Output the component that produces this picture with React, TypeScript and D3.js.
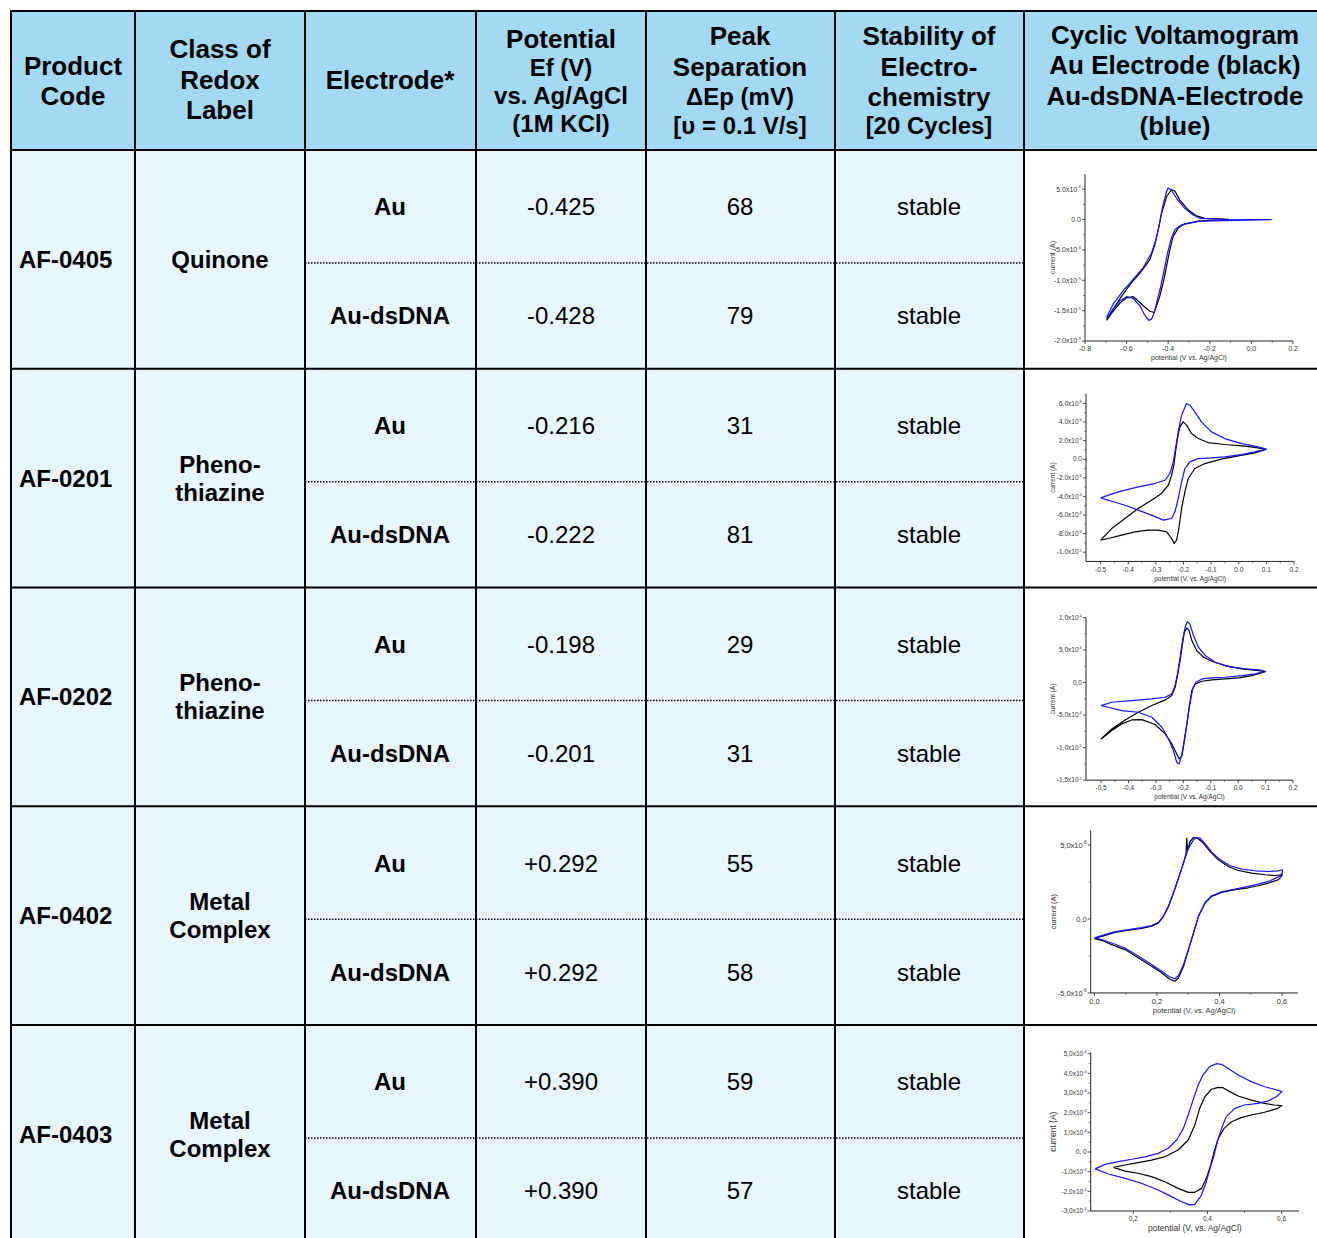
import React from 'react';
import * as d3 from 'd3';

type Pt = [number, number];

// ---------- table data ----------
const productCodes = ['AF-0405', 'AF-0201', 'AF-0202', 'AF-0402', 'AF-0403'];
const redoxClasses = [['Quinone'], ['Pheno-', 'thiazine'], ['Pheno-', 'thiazine'], ['Metal', 'Complex'], ['Metal', 'Complex']];
const electrodes = ['Au', 'Au-dsDNA'];
const potentials = [['-0.425', '-0.428'], ['-0.216', '-0.222'], ['-0.198', '-0.201'], ['+0.292', '+0.292'], ['+0.390', '+0.390']];
const peakSeparations = [[68, 79], [31, 81], [29, 31], [55, 58], [59, 57]];
const stabilities = [['stable', 'stable'], ['stable', 'stable'], ['stable', 'stable'], ['stable', 'stable'], ['stable', 'stable']];

const headerLines: { text: string; big: boolean; y: number }[][] = [
  [{ text: 'Product', big: true, y: 66 }, { text: 'Code', big: true, y: 96 }],
  [{ text: 'Class of', big: true, y: 49 }, { text: 'Redox', big: true, y: 80 }, { text: 'Label', big: true, y: 110 }],
  [{ text: 'Electrode*', big: true, y: 80 }],
  [{ text: 'Potential', big: true, y: 39 }, { text: 'Ef (V)', big: false, y: 68 }, { text: 'vs. Ag/AgCl', big: false, y: 96 }, { text: '(1M KCl)', big: false, y: 124 }],
  [{ text: 'Peak', big: true, y: 36 }, { text: 'Separation', big: true, y: 67 }, { text: 'ΔEp (mV)', big: false, y: 97 }, { text: '[υ = 0.1 V/s]', big: false, y: 126 }],
  [{ text: 'Stability of', big: true, y: 36 }, { text: 'Electro-', big: true, y: 67 }, { text: 'chemistry', big: true, y: 97 }, { text: '[20 Cycles]', big: false, y: 126 }],
  [{ text: 'Cyclic Voltamogram', big: true, y: 35 }, { text: 'Au Electrode (black)', big: true, y: 65 }, { text: 'Au-dsDNA-Electrode', big: true, y: 96 }, { text: '(blue)', big: true, y: 126 }],
];

// ---------- cyclic voltammogram data (potential V, current in tick units) ----------
const cv1Au: Pt[] = [
  [-0.696, -16.6], [-0.664, -14.7], [-0.624, -12.6], [-0.576, -10.4], [-0.528, -8.5], [-0.488, -6.6], [-0.464, -4.1], [-0.448, -1.7],
  [-0.432, 1.0], [-0.408, 3.75], [-0.384, 4.95], [-0.368, 4.7], [-0.344, 3.2], [-0.304, 1.6], [-0.264, 0.6], [-0.224, 0.2], [-0.109, 0.05],
  [-0.256, -0.27], [-0.32, -0.71], [-0.352, -1.41], [-0.376, -2.77], [-0.392, -4.95], [-0.408, -7.66], [-0.424, -10.4], [-0.44, -12.55],
  [-0.456, -14.2], [-0.467, -15.3], [-0.488, -15.1], [-0.52, -14.2], [-0.544, -13.4], [-0.568, -12.7], [-0.6, -12.9], [-0.632, -13.75],
  [-0.669, -15.3], [-0.696, -16.6],
];
const cv1Dna: Pt[] = [
  [-0.696, -16.1], [-0.664, -13.9], [-0.616, -11.7], [-0.568, -9.8], [-0.52, -7.9], [-0.48, -5.5], [-0.459, -3.3], [-0.443, -0.9],
  [-0.427, 2.1], [-0.408, 4.6], [-0.4, 5.2], [-0.384, 4.8], [-0.36, 3.5], [-0.32, 1.85], [-0.28, 0.76], [-0.248, 0.2], [-0.128, 0.05], [0.096, 0],
  [-0.248, -0.27], [-0.336, -0.87], [-0.368, -1.68], [-0.387, -3.3], [-0.403, -5.5], [-0.419, -8.2], [-0.435, -10.9], [-0.451, -13.1],
  [-0.467, -15.3], [-0.48, -16.4], [-0.493, -16.6], [-0.512, -15.8], [-0.536, -14.2], [-0.568, -13.0], [-0.6, -12.7], [-0.632, -13.4],
  [-0.664, -14.7], [-0.696, -16.4],
];
const cv2Au: Pt[] = [
  [-0.5, -8.71], [-0.46, -7.46], [-0.412, -6.38], [-0.364, -5.3], [-0.316, -4.41], [-0.28, -3.69], [-0.255, -2.8], [-0.243, -1.72],
  [-0.235, -0.65], [-0.229, 0.79], [-0.222, 2.22], [-0.213, 3.48], [-0.201, 4.01], [-0.189, 3.66], [-0.171, 2.76], [-0.147, 2.22],
  [-0.111, 1.79], [-0.051, 1.58], [0.022, 1.4], [0.07, 1.22], [0.098, 1.04],
  [0.058, 0.68], [-0.002, 0.36], [-0.063, 0], [-0.123, -0.47], [-0.159, -1.0], [-0.183, -2.08], [-0.195, -3.51], [-0.207, -5.3],
  [-0.217, -7.46], [-0.225, -8.71], [-0.234, -9.07], [-0.243, -8.53], [-0.261, -7.81], [-0.292, -7.63], [-0.328, -7.63], [-0.376, -7.81],
  [-0.424, -8.17], [-0.472, -8.53], [-0.5, -8.71],
];
const cv2Dna: Pt[] = [
  [-0.5, -4.16], [-0.436, -3.51], [-0.364, -2.97], [-0.304, -2.62], [-0.267, -2.26], [-0.249, -1.54], [-0.237, -0.29], [-0.229, 1.15],
  [-0.219, 2.94], [-0.207, 4.73], [-0.189, 5.99], [-0.177, 5.81], [-0.159, 5.09], [-0.135, 4.01], [-0.099, 2.94], [-0.051, 2.22],
  [0.01, 1.68], [0.07, 1.33], [0.1, 1.08],
  [0.058, 0.79], [0.01, 0.5], [-0.051, 0.25], [-0.099, 0.14], [-0.147, 0.07], [-0.177, -0.29], [-0.195, -1.0], [-0.207, -2.44],
  [-0.219, -4.23], [-0.231, -5.66], [-0.243, -6.38], [-0.273, -6.56], [-0.316, -6.02], [-0.364, -5.48], [-0.412, -4.95], [-0.46, -4.52],
  [-0.5, -4.16],
];
const cv3Au: Pt[] = [
  [-0.5, -8.66], [-0.461, -7.12], [-0.412, -5.74], [-0.364, -4.56], [-0.315, -3.53], [-0.266, -2.66], [-0.242, -2.0], [-0.23, -0.72],
  [-0.22, 1.33], [-0.211, 3.64], [-0.203, 5.94], [-0.196, 7.74], [-0.187, 8.4], [-0.179, 7.99], [-0.169, 6.45], [-0.151, 4.92],
  [-0.126, 3.89], [-0.096, 3.28], [-0.047, 2.61], [0.014, 2.1], [0.075, 1.84], [0.099, 1.69],
  [0.05, 1.08], [0.002, 0.72], [-0.047, 0.56], [-0.096, 0.41], [-0.132, 0.2], [-0.157, -0.2], [-0.169, -1.23], [-0.179, -3.79],
  [-0.187, -6.35], [-0.196, -8.91], [-0.205, -11.22], [-0.215, -11.73], [-0.224, -10.96], [-0.242, -9.43], [-0.266, -7.89],
  [-0.303, -6.45], [-0.351, -5.69], [-0.388, -5.74], [-0.425, -6.35], [-0.461, -7.38], [-0.5, -8.66],
];
const cv3Dna: Pt[] = [
  [-0.5, -3.53], [-0.461, -3.02], [-0.388, -2.77], [-0.315, -2.51], [-0.266, -2.25], [-0.242, -1.74], [-0.23, -0.46], [-0.22, 1.59],
  [-0.211, 4.15], [-0.203, 6.45], [-0.193, 8.61], [-0.185, 9.38], [-0.175, 8.91], [-0.163, 7.22], [-0.145, 5.43], [-0.12, 4.15],
  [-0.084, 3.13], [-0.035, 2.46], [0.026, 2.1], [0.075, 1.95], [0.099, 1.74],
  [0.062, 1.33], [0.014, 1.08], [-0.047, 0.82], [-0.096, 0.72], [-0.132, 0.56], [-0.154, 0.05], [-0.166, -0.97], [-0.177, -3.53],
  [-0.186, -6.1], [-0.196, -8.66], [-0.205, -10.96], [-0.215, -12.5], [-0.224, -12.24], [-0.236, -10.45], [-0.254, -8.66],
  [-0.278, -6.86], [-0.315, -5.33], [-0.364, -4.56], [-0.425, -4.3], [-0.473, -3.79], [-0.5, -3.53],
];
const cv4Au: Pt[] = [
  [0.0, -1.33], [0.023, -1.17], [0.066, -0.9], [0.109, -0.76], [0.151, -0.63], [0.183, -0.49], [0.205, -0.27], [0.221, 0.18],
  [0.237, 0.85], [0.253, 1.75], [0.269, 2.76], [0.285, 3.78], [0.293, 4.45], [0.295, 5.46], [0.298, 4.67], [0.306, 5.24],
  [0.317, 5.51], [0.33, 5.46], [0.349, 5.12], [0.37, 4.56], [0.396, 4.0], [0.428, 3.55], [0.46, 3.28], [0.503, 3.1], [0.546, 2.99],
  [0.578, 2.94], [0.601, 2.99],
  [0.588, 2.65], [0.556, 2.43], [0.524, 2.25], [0.492, 2.11], [0.45, 1.98], [0.407, 1.8], [0.375, 1.53], [0.354, 1.08], [0.333, 0.18],
  [0.317, -0.94], [0.301, -2.07], [0.285, -3.19], [0.269, -3.98], [0.258, -4.2], [0.242, -4.09], [0.215, -3.64], [0.183, -3.19],
  [0.141, -2.63], [0.098, -2.07], [0.055, -1.73], [0.023, -1.44], [0.0, -1.33],
];
const cv4Dna: Pt[] = [
  [0.0, -1.28], [0.023, -1.12], [0.066, -0.85], [0.109, -0.72], [0.151, -0.58], [0.183, -0.45], [0.205, -0.22], [0.221, 0.22],
  [0.237, 0.9], [0.253, 1.8], [0.269, 2.81], [0.285, 3.82], [0.301, 4.79], [0.317, 5.35], [0.327, 5.53], [0.338, 5.46], [0.354, 5.08],
  [0.375, 4.52], [0.402, 4.0], [0.434, 3.6], [0.471, 3.37], [0.514, 3.26], [0.556, 3.21], [0.588, 3.26], [0.601, 3.33],
  [0.601, 3.1], [0.588, 2.83], [0.556, 2.54], [0.524, 2.36], [0.492, 2.2], [0.45, 2.02], [0.407, 1.84], [0.375, 1.57], [0.354, 1.12],
  [0.333, 0.22], [0.317, -0.9], [0.301, -2.02], [0.285, -3.08], [0.269, -3.82], [0.258, -4.04], [0.242, -3.93], [0.215, -3.53],
  [0.183, -3.08], [0.141, -2.52], [0.098, -1.96], [0.055, -1.62], [0.023, -1.39], [0.0, -1.28],
];
const cv5Au: Pt[] = [
  [0.146, -0.78], [0.178, -0.66], [0.213, -0.54], [0.249, -0.41], [0.285, -0.24], [0.321, 0.1], [0.348, 0.61], [0.366, 1.37],
  [0.379, 2.22], [0.393, 2.81], [0.411, 3.19], [0.429, 3.29], [0.442, 3.27], [0.46, 3.07], [0.483, 2.85], [0.518, 2.64], [0.554, 2.47],
  [0.581, 2.39], [0.601, 2.36],
  [0.59, 2.22], [0.554, 2.02], [0.518, 1.88], [0.491, 1.75], [0.465, 1.54], [0.445, 1.2], [0.429, 0.69], [0.418, 0.02], [0.409, -0.66],
  [0.397, -1.34], [0.384, -1.85], [0.366, -2.05], [0.348, -2.05], [0.321, -1.85], [0.285, -1.51], [0.249, -1.25], [0.213, -1.08],
  [0.178, -0.97], [0.146, -0.78],
];
const cv5Dna: Pt[] = [
  [0.097, -0.86], [0.124, -0.63], [0.16, -0.49], [0.196, -0.37], [0.231, -0.25], [0.267, -0.07], [0.294, 0.19], [0.317, 0.61],
  [0.335, 1.2], [0.348, 1.88], [0.361, 2.64], [0.375, 3.41], [0.388, 3.92], [0.406, 4.34], [0.424, 4.49], [0.438, 4.46], [0.456, 4.25],
  [0.483, 3.92], [0.518, 3.58], [0.554, 3.32], [0.581, 3.19], [0.601, 3.07],
  [0.586, 2.81], [0.563, 2.59], [0.536, 2.47], [0.5, 2.39], [0.474, 2.22], [0.451, 1.8], [0.438, 1.2], [0.427, 0.53], [0.418, -0.15],
  [0.407, -0.83], [0.397, -1.51], [0.384, -2.19], [0.366, -2.66], [0.352, -2.69], [0.33, -2.53], [0.303, -2.27], [0.267, -1.93],
  [0.222, -1.59], [0.178, -1.34], [0.133, -1.12], [0.097, -0.86],
];

// tick values and labels per chart
const cv1XTicks = [-0.8, -0.6, -0.4, -0.2, 0.0, 0.2];
const cv1XLabels = ['-0.8', '-0.6', '-0.4', '-0.2', '0.0', '0.2'];
const cv1YTicks = [5, 0, -5, -10, -15, -20];
const cv1YLabels: [string, string][] = [['5.0x10', '-6'], ['0.0', ''], ['-5.0x10', '-6'], ['-1.0x10', '-5'], ['-1.5x10', '-5'], ['-2.0x10', '-5']];
const cv2XTicks = [-0.5, -0.4, -0.3, -0.2, -0.1, 0.0, 0.1, 0.2];
const cv2XLabels = ['-0.5', '-0.4', '-0.3', '-0.2', '-0.1', '0.0', '0.1', '0.2'];
const cv2YTicks = [6, 4, 2, 0, -2, -4, -6, -8, -10];
const cv2YLabels: [string, string][] = [['6.0x10', '-6'], ['4.0x10', '-6'], ['2.0x10', '-6'], ['0.0', ''], ['-2.0x10', '-6'], ['-4.0x10', '-6'], ['-6.0x10', '-6'], ['-8.0x10', '-6'], ['-1.0x10', '-5']];
const cv3XTicks = [-0.5, -0.4, -0.3, -0.2, -0.1, 0.0, 0.1, 0.2];
const cv3XLabels = ['-0,5', '-0,4', '-0,3', '-0,2', '-0,1', '0,0', '0,1', '0,2'];
const cv3YTicks = [10, 5, 0, -5, -10, -15];
const cv3YLabels: [string, string][] = [['1,0x10', '-5'], ['5,0x10', '-6'], ['0,0', ''], ['-5,0x10', '-6'], ['-1,0x10', '-5'], ['-1,5x10', '-5']];
const cv4XTicks = [0.0, 0.2, 0.4, 0.6];
const cv4XLabels = ['0,0', '0,2', '0,4', '0,6'];
const cv4YTicks = [5, 0, -5];
const cv4YLabels: [string, string][] = [['5,0x10', '-6'], ['0,0', ''], ['-5,0x10', '-6']];
const cv5XTicks = [0.2, 0.4, 0.6];
const cv5XLabels = ['0,2', '0,4', '0,6'];
const cv5YTicks = [5, 4, 3, 2, 1, 0, -1, -2, -3];
const cv5YLabels: [string, string][] = [['5,0x10', '-6'], ['4,0x10', '-6'], ['3,0x10', '-6'], ['2,0x10', '-6'], ['1,0x10', '-6'], ['0, 0', ''], ['-1,0x10', '-6'], ['-2,0x10', '-6'], ['-3,0x10', '-6']];
const cvXAxisTitles = ['potential (V vs. Ag/AgCl)', 'potential (V, vs. Ag/AgCl)', 'potential (V vs. Ag/AgCl)', 'potential (V, vs. Ag/AgCl)', 'potential (V, vs. Ag/AgCl)'];
const cvYAxisTitle = 'current (A)';

// ---------- layout ----------
const W = 1317;
const H = 1238;
const FONT = '"Liberation Sans", Arial, Helvetica, sans-serif';
const colEdges = [11, 135, 305, 476, 646, 835, 1024, 1317];
const colCenters = [73, 220, 390, 561, 740, 929, 1175];
const headerTop = 11;
const headerBottom = 150;
const rowH = 218.75;
const subSplit = 113;
const HEADER_BG = '#a3d9f3';
const BODY_BG = '#e8f5fd';
const BLUE = '#1414ff';

interface ChartCfg {
  au: Pt[]; dna: Pt[];
  xDomain: [number, number]; yDomain: [number, number];
  left: number; right: number; top: number; bottom: number;
  xTicks: number[]; xLabels: string[]; yTicks: number[]; yLabels: [string, string][];
  fs: number; tfs: number; xTitle: string;
}

const charts: ChartCfg[] = [
  { au: cv1Au, dna: cv1Dna, xDomain: [-0.8, 0.2], yDomain: [-20, 7.5], left: 60, right: 268, top: 24, bottom: 191, xTicks: cv1XTicks, xLabels: cv1XLabels, yTicks: cv1YTicks, yLabels: cv1YLabels, fs: 7, tfs: 7, xTitle: cvXAxisTitles[0] },
  { au: cv2Au, dna: cv2Dna, xDomain: [-0.553, 0.2], yDomain: [-11, 7.04], left: 61, right: 269, top: 25, bottom: 192.7, xTicks: cv2XTicks, xLabels: cv2XLabels, yTicks: cv2YTicks, yLabels: cv2YLabels, fs: 6.5, tfs: 6.5, xTitle: cvXAxisTitles[1] },
  { au: cv3Au, dna: cv3Dna, xDomain: [-0.555, 0.2], yDomain: [-15, 10], left: 61, right: 268, top: 30, bottom: 192.7, xTicks: cv3XTicks, xLabels: cv3XLabels, yTicks: cv3YTicks, yLabels: cv3YLabels, fs: 6.5, tfs: 6.5, xTitle: cvXAxisTitles[2] },
  { au: cv4Au, dna: cv4Dna, xDomain: [-0.012, 0.65], yDomain: [-5, 6], left: 65.7, right: 272.7, top: 24, bottom: 186.7, xTicks: cv4XTicks, xLabels: cv4XLabels, yTicks: cv4YTicks, yLabels: cv4YLabels, fs: 7.5, tfs: 7.5, xTitle: cvXAxisTitles[3] },
  { au: cv5Au, dna: cv5Dna, xDomain: [0.085, 0.647], yDomain: [-3, 5.07], left: 65.7, right: 274, top: 27.3, bottom: 186, xTicks: cv5XTicks, xLabels: cv5XLabels, yTicks: cv5YTicks, yLabels: cv5YLabels, fs: 6.5, tfs: 8.5, xTitle: cvXAxisTitles[4] },
];

function CVChart({ cfg, cellTop, idx }: { cfg: ChartCfg; cellTop: number; idx: number }) {
  const x0 = colEdges[6] + 1;
  const x = d3.scaleLinear().domain(cfg.xDomain).range([x0 + cfg.left, x0 + cfg.right]);
  const y = d3.scaleLinear().domain(cfg.yDomain).range([cellTop + cfg.bottom, cellTop + cfg.top]);
  const line = d3.line<Pt>().x((d) => x(d[0])).y((d) => y(d[1]));
  const axX = x0 + cfg.left;
  const axY = cellTop + cfg.bottom;
  const xs = [...cfg.xTicks].sort((a, b) => a - b);
  const ys = [...cfg.yTicks].sort((a, b) => a - b);
  const xMinor = xs.slice(1).map((v, i) => (v + xs[i]) / 2);
  const yMinor = ys.slice(1).map((v, i) => (v + ys[i]) / 2);
  const clipId = `clip-cv-${idx}`;
  const fs = cfg.fs;
  return (
    <g>
      <defs>
        <clipPath id={clipId}>
          <rect x={x0} y={cellTop + 1} width={W - x0} height={rowH - 2} />
        </clipPath>
      </defs>
      <g clipPath={`url(#${clipId})`} fontFamily={FONT} fill="#333">
        <path d={line(cfg.au) || ''} fill="none" stroke="#000" strokeWidth={1.2} strokeLinejoin="round" />
        <path d={line(cfg.dna) || ''} fill="none" stroke={BLUE} strokeWidth={1.2} strokeLinejoin="round" />
        <line x1={axX} x2={axX} y1={cellTop + cfg.top} y2={axY} stroke="#222" strokeWidth={1} />
        <line x1={axX} x2={x0 + cfg.right} y1={axY} y2={axY} stroke="#222" strokeWidth={1} />
        {cfg.yTicks.map((t) => (
          <line key={'yt' + t} x1={axX - 3} x2={axX} y1={y(t)} y2={y(t)} stroke="#222" strokeWidth={0.8} />
        ))}
        {yMinor.map((t) => (
          <line key={'ym' + t} x1={axX - 1.8} x2={axX} y1={y(t)} y2={y(t)} stroke="#222" strokeWidth={0.6} />
        ))}
        {cfg.xTicks.map((t) => (
          <line key={'xt' + t} x1={x(t)} x2={x(t)} y1={axY} y2={axY + 3} stroke="#222" strokeWidth={0.8} />
        ))}
        {xMinor.map((t) => (
          <line key={'xm' + t} x1={x(t)} x2={x(t)} y1={axY} y2={axY + 1.8} stroke="#222" strokeWidth={0.6} />
        ))}
        {cfg.yTicks.map((t, i) => (
          <text key={'yl' + t} x={axX - 4} y={y(t)} dy="0.35em" textAnchor="end" fontSize={fs}>
            {cfg.yLabels[i][0]}
            {cfg.yLabels[i][1] ? (
              <tspan fontSize={fs * 0.6} dy={-fs * 0.45}>{cfg.yLabels[i][1]}</tspan>
            ) : null}
          </text>
        ))}
        {cfg.xTicks.map((t, i) => (
          <text key={'xl' + t} x={x(t)} y={axY + 8} dy="0.35em" textAnchor="middle" fontSize={fs}>
            {cfg.xLabels[i]}
          </text>
        ))}
        <text x={(x0 + cfg.left + x0 + cfg.right) / 2} y={axY + 17} dy="0.35em" textAnchor="middle" fontSize={cfg.tfs}>
          {cfg.xTitle}
        </text>
        <text
          transform={`translate(${x0 + 28},${cellTop + (cfg.top + cfg.bottom) / 2}) rotate(-90)`}
          dy="0.35em"
          textAnchor="middle"
          fontSize={cfg.tfs}
        >
          {cvYAxisTitle}
        </text>
      </g>
    </g>
  );
}

export default function App() {
  const rowTops = productCodes.map((_, i) => headerBottom + i * rowH);
  return (
    <svg
      width={W}
      height={H}
      viewBox={`0 0 ${W} ${H}`}
      style={{ position: 'absolute', left: 0, top: 0, display: 'block', background: '#fff' }}
      fontFamily={FONT}
    >
      {/* header background */}
      <rect x={colEdges[0]} y={headerTop} width={W - colEdges[0]} height={headerBottom - headerTop} fill={HEADER_BG} />
      {/* body backgrounds */}
      <rect x={colEdges[0]} y={headerBottom} width={colEdges[6] - colEdges[0]} height={H - headerBottom} fill={BODY_BG} />
      <rect x={colEdges[6]} y={headerBottom} width={W - colEdges[6]} height={H - headerBottom} fill="#fff" />

      {/* header text */}
      {headerLines.map((lines, c) =>
        lines.map((ln, j) => (
          <text
            key={`h${c}-${j}`}
            x={colCenters[c]}
            y={ln.y}
            dy="0.35em"
            textAnchor="middle"
            fontWeight="bold"
            fontSize={ln.big ? 26 : 24}
            fill="#000"
          >
            {ln.text}
          </text>
        ))
      )}

      {/* body rows */}
      {rowTops.map((top, r) => {
        const mid = top + rowH / 2;
        const cls = redoxClasses[r];
        return (
          <g key={'row' + r}>
            <text x={19} y={mid} dy="0.35em" fontWeight="bold" fontSize={24} fill="#000">
              {productCodes[r]}
            </text>
            {cls.map((t, j) => (
              <text
                key={'cls' + j}
                x={colCenters[1]}
                y={mid + (j - (cls.length - 1) / 2) * 28}
                dy="0.35em"
                textAnchor="middle"
                fontWeight="bold"
                fontSize={24}
                fill="#000"
              >
                {t}
              </text>
            ))}
            {electrodes.map((e, k) => {
              const cy = top + (k === 0 ? 57 : 166);
              return (
                <g key={'e' + k}>
                  <text x={colCenters[2]} y={cy} dy="0.35em" textAnchor="middle" fontWeight="bold" fontSize={24} fill="#000">
                    {e}
                  </text>
                  <text x={colCenters[3]} y={cy} dy="0.35em" textAnchor="middle" fontSize={24} fill="#000">
                    {potentials[r][k]}
                  </text>
                  <text x={colCenters[4]} y={cy} dy="0.35em" textAnchor="middle" fontSize={24} fill="#000">
                    {peakSeparations[r][k]}
                  </text>
                  <text x={colCenters[5]} y={cy} dy="0.35em" textAnchor="middle" fontSize={24} fill="#000">
                    {stabilities[r][k]}
                  </text>
                </g>
              );
            })}
            <line
              x1={colEdges[2]}
              x2={colEdges[6]}
              y1={top + subSplit}
              y2={top + subSplit}
              stroke="#000"
              strokeWidth={1.3}
              strokeDasharray="1.5,1.5"
            />
            <CVChart cfg={charts[r]} cellTop={top} idx={r} />
          </g>
        );
      })}

      {/* grid lines */}
      {colEdges.slice(0, 7).map((cx, i) => (
        <line key={'v' + i} x1={cx} x2={cx} y1={headerTop} y2={H} stroke="#000" strokeWidth={2} />
      ))}
      <line x1={colEdges[0] - 1} x2={W} y1={headerTop} y2={headerTop} stroke="#000" strokeWidth={2} />
      <line x1={colEdges[0] - 1} x2={W} y1={headerBottom} y2={headerBottom} stroke="#000" strokeWidth={2} />
      {rowTops.slice(1).map((t, i) => (
        <line key={'hz' + i} x1={colEdges[0] - 1} x2={W} y1={t} y2={t} stroke="#000" strokeWidth={2} />
      ))}
    </svg>
  );
}
